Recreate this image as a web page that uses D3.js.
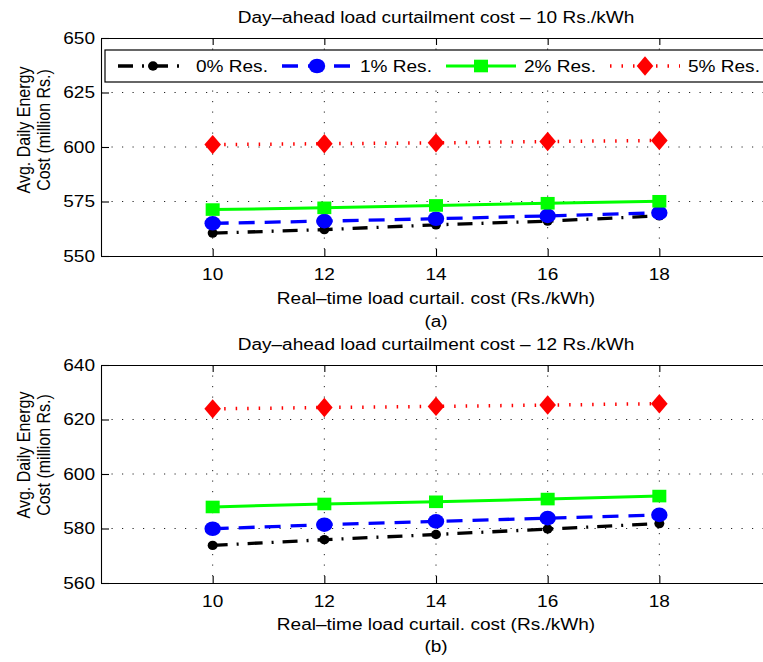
<!DOCTYPE html>
<html>
<head>
<meta charset="utf-8">
<script src="https://cdn.jsdelivr.net/npm/d3@7"></script>
<style>
  html, body { margin: 0; padding: 0; background: #fff; overflow: hidden; }
  text { font-family: "Liberation Sans", Arial, Helvetica, sans-serif; fill: #000; }
</style>
</head>
<body>
<svg id="fig" width="763" height="662"></svg>
<script>
// Real-time load curtailment cost (Rs./kWh) on the x axis
const rtCost = [10, 12, 14, 16, 18];
const xTicks = [10, 12, 14, 16, 18];
const seriesNames = ["0% Res.", "1% Res.", "2% Res.", "5% Res."];

// Panel (a): day-ahead curtailment cost 10 Rs./kWh
const costA_res0 = [560.5, 562.1, 564.3, 566.0, 568.4];
const costA_res1 = [565.0, 566.0, 567.1, 568.4, 569.8];
const costA_res2 = [571.3, 572.1, 573.2, 574.2, 575.1];
const costA_res5 = [601.1, 601.5, 601.9, 602.5, 603.0];
const yTicksA = [550, 575, 600, 625, 650];

// Panel (b): day-ahead curtailment cost 12 Rs./kWh
const costB_res0 = [573.8, 575.9, 577.8, 579.8, 581.8];
const costB_res1 = [579.9, 581.4, 582.6, 583.8, 585.0];
const costB_res2 = [587.9, 589.0, 589.8, 590.8, 591.9];
const costB_res5 = [623.9, 624.4, 624.8, 625.3, 625.8];
const yTicksB = [560, 580, 600, 620, 640];

const FS = 16;      // font size
const SX = 1.19;    // horizontal text stretch

const svg = d3.select("#fig");

const styles = [
  { color: "#000000", dash: "15,9,2,9", width: 3.3, marker: "dot" },
  { color: "#0000ff", dash: "16,10",    width: 3.3, marker: "circle" },
  { color: "#00ff00", dash: null,       width: 3.0, marker: "square" },
  { color: "#ff0000", dash: "1.5,10",   width: 3.5, marker: "diamond" }
];

function label(g, x, y, str, anchor, rotate) {
  const t = g.append("g")
    .attr("transform", `translate(${x},${y}) scale(${SX},1)` + (rotate ? " rotate(-90)" : ""));
  t.append("text")
    .attr("text-anchor", anchor)
    .attr("dy", "0.36em")
    .attr("font-size", FS)
    .text(str);
}

function marker(g, type, cx, cy, color) {
  if (type === "dot") {
    g.append("ellipse").attr("cx", cx).attr("cy", cy).attr("rx", 5).attr("ry", 4.7).attr("fill", color);
  } else if (type === "circle") {
    g.append("ellipse").attr("cx", cx).attr("cy", cy).attr("rx", 8.2).attr("ry", 7.3).attr("fill", color);
  } else if (type === "square") {
    g.append("rect").attr("x", cx - 7).attr("y", cy - 6.3).attr("width", 14).attr("height", 12.6).attr("fill", color);
  } else {
    g.append("path")
      .attr("d", `M${cx},${cy - 9.7}L${cx + 8.3},${cy}L${cx},${cy + 9.7}L${cx - 8.3},${cy}Z`)
      .attr("fill", color);
  }
}

function panel(opts) {
  const { top, bottom, yDomain, yTicks, series, title, sub, labelOffsets, legend } = opts;
  const left = 101, right = 771;
  const x = d3.scaleLinear().domain([8, 20]).range([left, right]);
  const y = d3.scaleLinear().domain(yDomain).range([bottom, top]);
  const g = svg.append("g");

  // dotted grid
  const grid = g.append("g").attr("stroke", "#000").attr("stroke-width", 1)
    .attr("stroke-dasharray", "1.2,9.3").attr("opacity", 0.85);
  xTicks.forEach(v => grid.append("line")
    .attr("x1", x(v)).attr("x2", x(v)).attr("y1", top).attr("y2", bottom));
  yTicks.slice(1, -1).forEach(v => grid.append("line")
    .attr("x1", left).attr("x2", right).attr("y1", y(v)).attr("y2", y(v)));

  // axes with inward ticks
  const axB = g.append("g").attr("transform", `translate(0,${bottom})`)
    .call(d3.axisBottom(x).tickValues(xTicks).tickSizeInner(-7).tickSizeOuter(0).tickFormat(""));
  const axT = g.append("g").attr("transform", `translate(0,${top})`)
    .call(d3.axisTop(x).tickValues(xTicks).tickSizeInner(-7).tickSizeOuter(0).tickFormat(""));
  const axL = g.append("g").attr("transform", `translate(${left},0)`)
    .call(d3.axisLeft(y).tickValues(yTicks).tickSizeInner(-8).tickSizeOuter(0).tickFormat(""));
  [axB, axT, axL].forEach(a => {
    a.selectAll("path,line").attr("stroke", "#000").attr("stroke-width", 1.1);
  });
  g.append("line").attr("x1", right).attr("x2", right).attr("y1", top).attr("y2", bottom)
    .attr("stroke", "#000").attr("stroke-width", 1.1);

  // tick labels
  xTicks.forEach(v => label(g, x(v), bottom + labelOffsets[0], String(v), "middle"));
  yTicks.forEach(v => label(g, left - 6, y(v), String(v), "end"));

  // series lines and markers
  const line = d3.line().x((d, i) => x(rtCost[i])).y(d => y(d));
  series.forEach((vals, k) => {
    const s = styles[k];
    g.append("path").datum(vals).attr("d", line)
      .attr("fill", "none").attr("stroke", s.color).attr("stroke-width", s.width)
      .attr("stroke-dasharray", s.dash);
    vals.forEach((v, i) => marker(g, s.marker, x(rtCost[i]), y(v), s.color));
  });

  // legend
  if (legend) {
    const lg = g.append("g");
    lg.append("rect").attr("x", 105).attr("y", 50).attr("width", 670).attr("height", 32)
      .attr("fill", "#fff").attr("stroke", "#000").attr("stroke-width", 1.2);
    seriesNames.forEach((name, k) => {
      const s = styles[k];
      const mx = 153 + 164 * k, my = 66;
      lg.append("line").attr("x1", mx - 35).attr("x2", mx + 35).attr("y1", my).attr("y2", my)
        .attr("stroke", s.color).attr("stroke-width", s.width)
        .attr("stroke-dasharray", s.dash);
      marker(lg, s.marker, mx, my, s.color);
      label(lg, mx + 43, my, name, "start");
    });
  }

  // titles and labels
  const cx = 436;
  label(g, cx, top - 21, title, "middle");
  label(g, cx, bottom + labelOffsets[1], "Real\u2013time load curtail. cost (Rs./kWh)", "middle");
  label(g, cx, bottom + labelOffsets[2], sub, "middle");
  const yc = opts.ylabelCenter;
  label(g, 23, yc, "Avg. Daily Energy", "middle", true);
  label(g, 43, yc, "Cost (million Rs.)", "middle", true);
}

panel({
  top: 38, bottom: 256, yDomain: [550, 650], yTicks: yTicksA,
  series: [costA_res0, costA_res1, costA_res2, costA_res5],
  title: "Day\u2013ahead load curtailment cost \u2013 10 Rs./kWh", sub: "(a)",
  labelOffsets: [18, 42, 65], ylabelCenter: 130, legend: true
});
panel({
  top: 365, bottom: 583, yDomain: [560, 640], yTicks: yTicksB,
  series: [costB_res0, costB_res1, costB_res2, costB_res5],
  title: "Day\u2013ahead load curtailment cost \u2013 12 Rs./kWh", sub: "(b)",
  labelOffsets: [18, 41, 63], ylabelCenter: 455, legend: false
});
</script>
</body>
</html>
